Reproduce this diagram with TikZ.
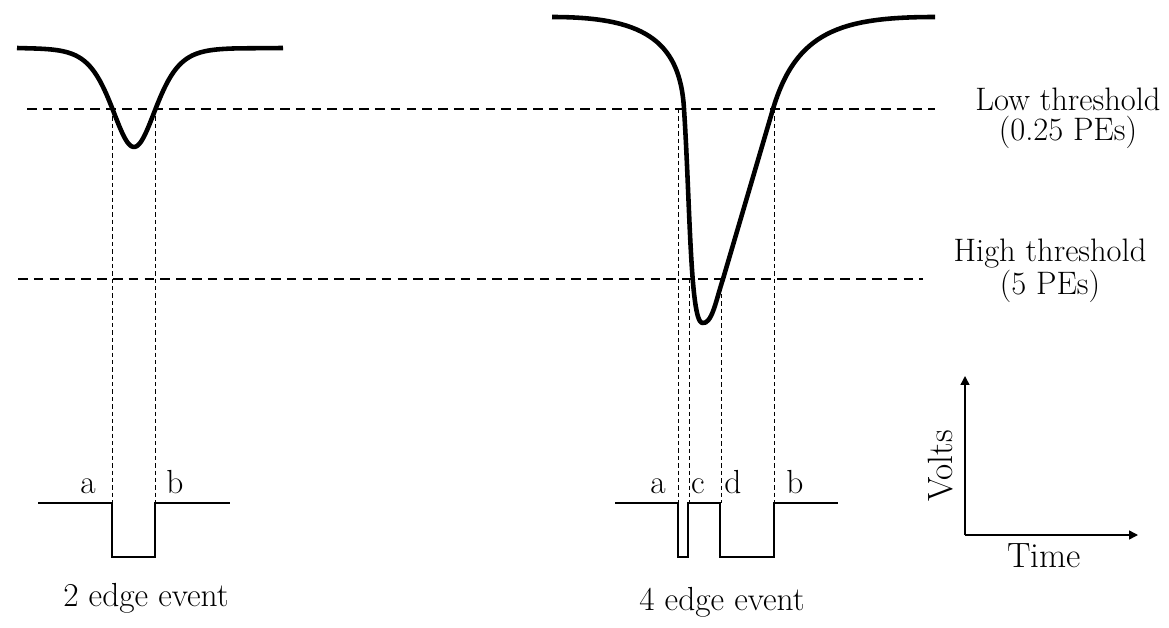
\documentclass[tikz,border=0pt]{standalone}
\usetikzlibrary{arrows.meta}

\begin{document}
\begin{tikzpicture}[
    x=0.02cm, y=-0.02cm,
    every node/.style={font=\fontsize{19}{21}\selectfont, inner sep=0pt},
    lbl/.style={align=center, font=\fontsize{18.5}{17}\selectfont},
    axlbl/.style={font=\fontsize{20}{22}\selectfont},
    pulse/.style={line width=2.6pt, line join=round},
    thresh/.style={line width=1.1pt, dash pattern=on 5.5pt off 3.5pt},
    guide/.style={line width=0.5pt, dash pattern=on 2.5pt off 1.7pt},
    logic/.style={line width=0.8pt},
    axis/.style={-{Triangle[length=5pt, width=5pt]}, line width=0.8pt}
]
\useasboundingbox (0,0) rectangle (1169,628);

\coordinate (lowL) at (27,109);
\coordinate (lowR) at (935,109);
\coordinate (highL) at (18,279);
\coordinate (highR) at (923,279);
\draw[thresh] (lowL) -- (lowR);
\draw[thresh] (highL) -- (highR);
\node[lbl] (lowlbl) at (1068,118) {Low threshold\\(0.25 PEs)};
\node[lbl] (highlbl) at (1050,271) {High threshold\\(5 PEs)};

% small pulse
\draw[pulse] (17,48) -- plot[domain=30:238, samples=140]
    (\x, {48+396/(exp((\x-134)/29.7)+exp(-(\x-134)/29.7))^2}) -- (283,48);
\coordinate (sa) at (112,109);
\coordinate (sb) at (155,109);
\draw[guide] (sa) -- (sa |- 0,503);
\draw[guide] (sb) -- (sb |- 0,503);
\draw[logic] (38,503) -- (112,503) -- (112,557) -- (155,557) -- (155,503) -- (230,503);
\node[anchor=base] (sla) at (88,493) {a};
\node[anchor=base] (slb) at (175,493) {b};
\node[anchor=base] (ev2) at (146,606) {2 edge event};

% large pulse
\coordinate (rs) at (552,17);
\coordinate (rlo1) at (684,109);
\coordinate (rmin) at (702,323);
\coordinate (rhi2) at (723,279);
\coordinate (rlo2) at (773,109);
\coordinate (re) at (935,17);
\draw[pulse] (rs) .. controls (640,17) and (680,38) .. (rlo1)
    .. controls (690,200) and (690,320) .. (rmin)
    .. controls (712,325) and (716,300) .. (rhi2) -- (rlo2)
    .. controls (796,32) and (840,17) .. (re);
\coordinate (ga) at (678,109);
\coordinate (gc) at (689,279);
\coordinate (gd) at (721,279);
\coordinate (gb) at (774,109);
\foreach \g in {ga,gc,gd,gb}
    \draw[guide] (\g) -- (\g |- 0,503);
\draw[logic] (615,503) -- (678,503) -- (678,557) -- (688,557) -- (688,503) -- (720,503)
    -- (720,557) -- (774,557) -- (774,503) -- (838,503);
\node[anchor=base] (lla) at (658,493) {a};
\node[anchor=base] (llc) at (698,493) {c};
\node[anchor=base] (lld) at (733,493) {d};
\node[anchor=base] (llb) at (795,493) {b};
\node[anchor=base] (ev4) at (722,610) {4 edge event};

% axes
\coordinate (orig) at (965,535);
\coordinate (ytip) at (965,376);
\coordinate (xtip) at (1138,535);
\draw[axis] (orig) -- (ytip);
\draw[axis] (orig) -- (xtip);
\node[axlbl, rotate=90, anchor=base] (volts) at (952,466) {Volts};
\node[axlbl, anchor=base] (time) at (1044,567) {Time};
\end{tikzpicture}
\end{document}
